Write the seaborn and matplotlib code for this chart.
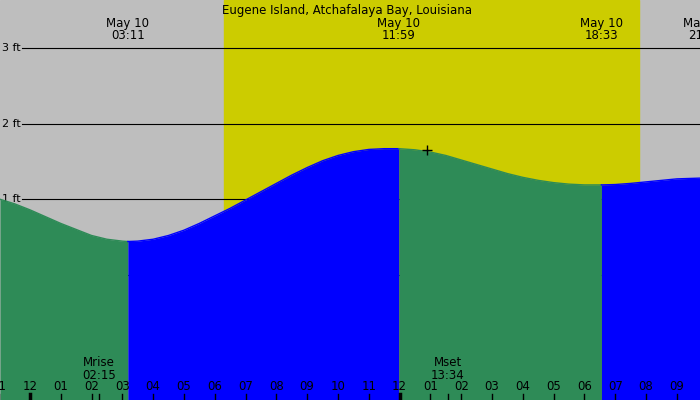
import matplotlib
matplotlib.use("Agg")
import matplotlib.pyplot as plt
import seaborn as sns
import numpy as np
import pandas as pd

hours = [-0.97, -0.5, 0, 0.5, 1, 1.5, 2, 2.5, 3, 3.18, 3.5, 4, 4.5, 5, 5.5, 6, 6.5, 7, 7.5, 8, 8.5, 9, 9.5, 10, 10.5, 11, 11.5, 11.98,
         12.5, 13, 13.5, 14, 14.5, 15, 15.5, 16, 16.5, 17, 17.5, 18, 18.55, 19, 19.5, 20, 20.5, 21, 21.75]
heights = [1.0, 0.94, 0.86, 0.77, 0.68, 0.6, 0.52, 0.47, 0.445, 0.44, 0.445, 0.47, 0.52, 0.59, 0.68, 0.78, 0.88, 0.99, 1.1, 1.21, 1.32, 1.42, 1.51, 1.58, 1.63, 1.66, 1.67, 1.67,
           1.655, 1.625, 1.58, 1.52, 1.46, 1.4, 1.34, 1.29, 1.25, 1.22, 1.2, 1.19, 1.19, 1.195, 1.21, 1.23, 1.25, 1.27, 1.28]
extreme_hours = [3.18, 11.98, 18.55, 21.9]
extreme_labels = ["May 10\n03:11", "May 10\n11:59", "May 10\n18:33", "May 10\n21:54"]
tick_labels = ["11", "12", "01", "02", "03", "04", "05", "06", "07", "08", "09", "10", "11", "12", "01", "02", "03", "04", "05", "06", "07", "08", "09"]
day_start, day_end = 6.3, 19.77
moon_events = [(2.25, "Mrise\n02:15"), (13.57, "Mset\n13:34")]
ft_levels = [0, 1, 2, 3]

XMIN, XMAX, YMIN, YMAX = -0.97, 21.75, -1.66, 3.64
GREEN, BLUE = "#2E8B57", "#0000FF"

df = pd.DataFrame({"h": hours, "ft": heights})
fig = plt.figure(figsize=(7, 4), dpi=100)
ax = fig.add_axes([0, 0, 1, 1])
ax.axvspan(XMIN, XMAX, color="#BEBEBE", zorder=0)
ax.axvspan(day_start, day_end, color="#CCCC00", zorder=0)
for lv in ft_levels:
    ax.axhline(lv, xmin=22/700, color="black", lw=0.8, zorder=1)
    ax.text(XMIN + 0.08, lv, f"{lv} ft", va="center", ha="left", fontsize=8, zorder=1)

bounds = [XMIN] + extreme_hours[:3] + [XMAX]
for i in range(len(bounds) - 1):
    seg = df[(df.h >= bounds[i]) & (df.h <= bounds[i + 1])]
    c = GREEN if i % 2 == 0 else BLUE
    ax.fill_between(seg.h, YMIN, seg.ft, color=c, lw=0, zorder=2)
    sns.lineplot(data=seg, x="h", y="ft", ax=ax, color=c, lw=1, zorder=3)
ax.set_xlim(XMIN, XMAX); ax.set_ylim(YMIN, YMAX); ax.axis("off")

ax.plot([12.9], [1.65], marker="+", color="black", ms=7, zorder=4)
ax.text(10.3, YMAX - 0.05, "Eugene Island, Atchafalaya Bay, Louisiana", ha="center", va="top", fontsize=8.5)
for h, lab in zip(extreme_hours, extreme_labels):
    ax.text(h, YMAX - 0.22, lab, ha="center", va="top", fontsize=8.5, linespacing=0.95)
for h, lab in moon_events:
    ax.text(h, -1.08, lab, ha="center", va="top", fontsize=8.5, linespacing=0.95)
for i, lab in enumerate(tick_labels):
    h = i - 1
    ax.text(h, -1.48, lab, ha="center", va="center", fontsize=8.5)
    ax.plot([h, h], [YMIN, YMIN + 0.08], color="black", lw=1, zorder=4)
for h in [0, 12]:
    ax.plot([h, h], [YMIN, YMIN + 0.08], color="black", lw=2.5, zorder=4)
for h, _ in moon_events:
    ax.plot([h, h], [YMIN, YMIN + 0.08], color="black", lw=1, zorder=4)
fig.savefig("out.png", dpi=100)
